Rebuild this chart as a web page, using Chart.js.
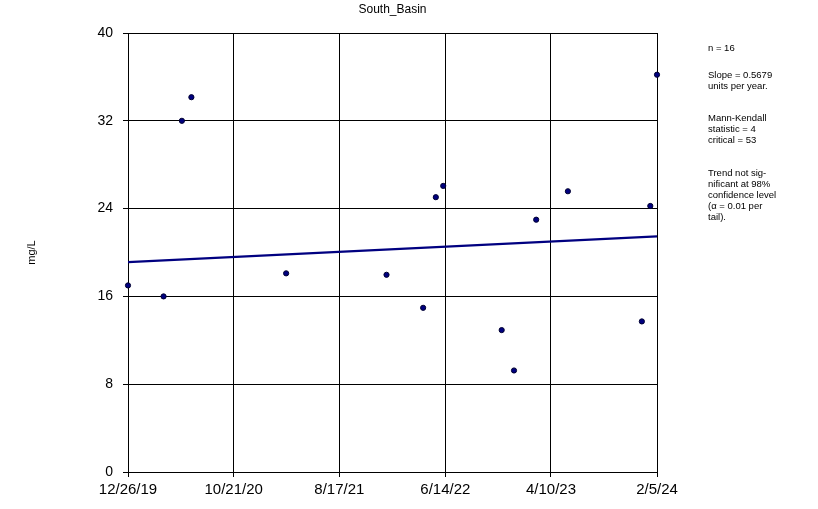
<!DOCTYPE html>
<html>
<head>
<meta charset="utf-8">
<script src="https://cdn.jsdelivr.net/npm/chart.js@4"></script>
<style>
  body { margin: 0; background: #fff; }
  canvas { display: block; }
</style>
</head>
<body>
<canvas id="myChart" width="818" height="509"></canvas>
<script>
// sample dates and concentrations (mg/L)
const sampleDates = ['2019-12-26', '2020-04-05', '2020-05-27', '2020-06-23', '2021-03-19',
  '2021-12-29', '2022-04-12', '2022-05-18', '2022-06-08', '2022-11-21', '2022-12-26',
  '2023-02-27', '2023-05-28', '2023-12-24', '2024-01-17', '2024-02-05']
const sampleValues = [17.0, 16.0, 32.0, 34.15, 18.1, 17.97, 14.96, 25.04, 26.07,
  12.93, 9.25, 22.99, 25.58, 13.72, 24.24, 36.2]

// Sen slope trend line end points
const trendDates = ['2019-12-26', '2024-02-05']
const trendValues = [19.13, 21.47]

const tickLabels = ['12/26/19', '10/21/20', '8/17/21', '6/14/22', '4/10/23', '2/5/24']
const yTicks = [0, 8, 16, 24, 32, 40]

// text block on the right, one list per paragraph
const notes = [
  ['n = 16'],
  ['Slope = 0.5679', 'units per year.'],
  ['Mann-Kendall', 'statistic = 4', 'critical = 53'],
  ['Trend not sig-', 'nificant at 98%', 'confidence level', '(\u03b1 = 0.01 per', 'tail).']
]

const start = Date.UTC(2019, 11, 26)
const dayOf = (s) => {
  const p = s.split('-')
  return (Date.UTC(+p[0], +p[1] - 1, +p[2]) - start) / 86400000
}
const dayOfLabel = (s) => {
  const p = s.split('/')
  return (Date.UTC(2000 + +p[2], +p[0] - 1, +p[1]) - start) / 86400000
}
const tickDays = tickLabels.map(dayOfLabel)

Chart.defaults.font.family = "'Liberation Sans', Arial, sans-serif"
Chart.defaults.color = '#000'

const notesPlugin = {
  id: 'notes',
  afterDraw(chart) {
    const ctx = chart.ctx
    const paraTop = [48, 75, 118, 173]
    ctx.save()
    ctx.fillStyle = '#000'
    ctx.font = "9.5px 'Liberation Sans', Arial, sans-serif"
    ctx.textBaseline = 'middle'
    notes.forEach((para, p) => {
      para.forEach((line, i) => ctx.fillText(line, 708, paraTop[p] + i * 11))
    })
    ctx.restore()
  }
}

const config = {
  type: 'scatter',
  data: {
    datasets: [{
      label: 'South_Basin',
      data: sampleDates.map((d, i) => ({ x: dayOf(d), y: sampleValues[i] })),
      backgroundColor: '#000080',
      borderColor: '#000030',
      borderWidth: 1,
      pointRadius: 2.6,
      clip: false,
      order: 1
    }, {
      label: 'trend',
      type: 'line',
      data: trendDates.map((d, i) => ({ x: dayOf(d), y: trendValues[i] })),
      borderColor: '#000080',
      borderWidth: 2.2,
      pointRadius: 0,
      fill: false,
      order: 2
    }]
  },
  options: {
    responsive: false,
    animation: false,
    layout: { padding: { left: 0, right: 161, top: 0, bottom: 0 } },
    plugins: {
      legend: { display: false },
      tooltip: { enabled: false },
      title: {
        display: true,
        fullSize: false,
        text: 'South_Basin',
        font: { size: 12, weight: 'normal' },
        padding: { top: 2, bottom: 16.6 }
      }
    },
    scales: {
      x: {
        type: 'linear',
        min: tickDays[0],
        max: tickDays[tickDays.length - 1],
        afterBuildTicks: (scale) => { scale.ticks = tickDays.map(v => ({ value: v })) },
        afterFit: (scale) => { scale.height = 37 },
        ticks: {
          font: { size: 15 },
          padding: 4,
          maxRotation: 0,
          autoSkip: false,
          callback: (value, index) => tickLabels[index]
        },
        grid: { color: '#000', lineWidth: 1, tickLength: 5 },
        border: { color: '#000', width: 1 }
      },
      y: {
        min: 0,
        max: 40,
        afterBuildTicks: (scale) => { scale.ticks = yTicks.map(v => ({ value: v })) },
        afterFit: (scale) => { scale.width = 128 },
        ticks: { font: { size: 14 }, padding: 10 },
        grid: { color: '#000', lineWidth: 1, tickLength: 5 },
        border: { color: '#000', width: 1 },
        title: {
          display: true,
          text: 'mg/L',
          font: { size: 11 },
          padding: { top: 25, bottom: 0 }
        }
      }
    }
  },
  plugins: [notesPlugin]
}

const myChart = document.getElementById('myChart')
const grafico = new Chart(myChart, config)
</script>
</body>
</html>
